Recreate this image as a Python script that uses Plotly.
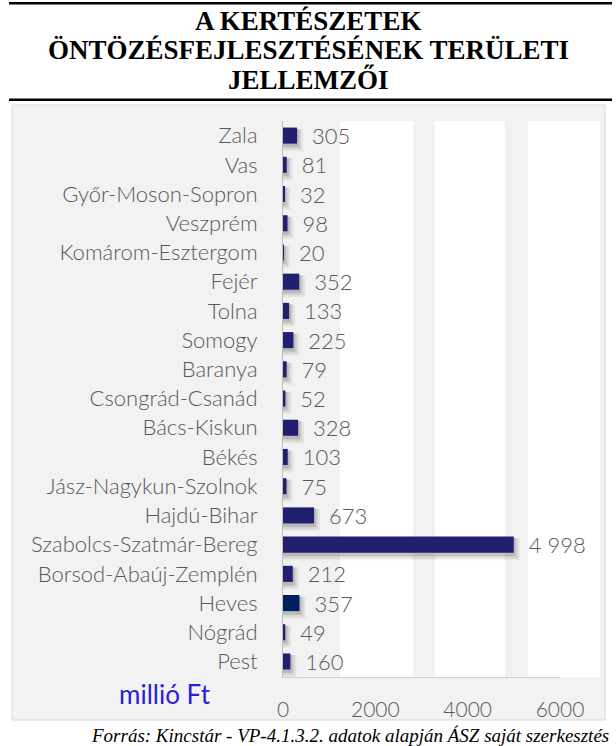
import plotly.graph_objects as go

W, H = 616, 746

counties = ["Zala", "Vas", "Győr-Moson-Sopron", "Veszprém", "Komárom-Esztergom",
            "Fejér", "Tolna", "Somogy", "Baranya", "Csongrád-Csanád", "Bács-Kiskun",
            "Békés", "Jász-Nagykun-Szolnok", "Hajdú-Bihar", "Szabolcs-Szatmár-Bereg",
            "Borsod-Abaúj-Zemplén", "Heves", "Nógrád", "Pest"]
values = [305, 81, 32, 98, 20, 352, 133, 225, 79, 52, 328, 103, 75, 673, 4998,
          212, 357, 49, 160]
x_ticks = [0, 2000, 4000, 6000]
x_tick_labels = ["0", "2000", "4000", "6000"]

title_lines = ["A KERTÉSZETEK", "ÖNTÖZÉSFEJLESZTÉSÉNEK TERÜLETI", "JELLEMZŐI"]
unit_label = "millió Ft"
source_text = "Forrás: Kincstár - VP-4.1.3.2. adatok alapján ÁSZ saját szerkesztés"

BAR = "#20206e"
BAR_HL = "#002060"
GRAY_TXT = "#595959"
XMAX = 6000

# plot area in page pixels
PL, PR, PT, PB = 283, 560, 121, 677


def px(x):
    return x / W


def py(y):
    return 1 - y / H


colors = [BAR_HL if c == "Heves" else BAR for c in counties]
labels = [f"{v:,}".replace(",", " ") for v in values]

data_per_px = XMAX / (PR - PL)
row_px = (PB - PT) / len(counties)
BW = 0.55

fig = go.Figure()
# soft shadows
for spread, alpha in [(6, 0.05), (4, 0.08), (2, 0.12)]:
    fig.add_trace(go.Bar(
        y=counties, x=[v + spread * data_per_px for v in values], orientation="h",
        width=BW + spread / row_px, offset=-BW / 2 + 1.5 / row_px,
        marker=dict(color=f"rgba(0,0,0,{alpha})", line=dict(width=0)),
        hoverinfo="skip", showlegend=False))

fig.add_trace(go.Bar(
    y=counties, x=values, orientation="h", width=BW,
    marker=dict(color=colors, line=dict(width=0)),
    text=["\u00a0\u00a0" + t for t in labels], textposition="outside",
    constraintext="none", cliponaxis=False,
    textfont=dict(family="Lato", size=22, color=GRAY_TXT, weight=300),
    showlegend=False))

shapes = [
    dict(type="rect", xref="paper", yref="paper", x0=px(9), x1=px(612), y0=py(4.5), y1=py(2),
         fillcolor="black", line=dict(width=0), layer="below"),
    dict(type="rect", xref="paper", yref="paper", x0=px(9), x1=px(612), y0=py(101), y1=py(98.5),
         fillcolor="black", line=dict(width=0), layer="below"),
    dict(type="rect", xref="paper", yref="paper", x0=px(12), x1=px(605), y0=py(720), y1=py(105),
         fillcolor="#f2f2f2", line=dict(color="#d9d9d9", width=1), layer="below"),
]
for a, b in [(340, 413), (435, 505), (528, 600)]:
    shapes.append(dict(type="rect", xref="paper", yref="paper", x0=px(a), x1=px(b),
                       y0=py(PB), y1=py(PT), fillcolor="white", line=dict(width=0),
                       layer="below"))

annotations = []
for line, yc in zip(title_lines, [21, 50, 80]):
    annotations.append(dict(
        text="<b>" + line + "</b>", xref="paper", yref="paper",
        x=px(308), y=py(yc), xanchor="center", yanchor="middle", showarrow=False,
        font=dict(family="Liberation Serif", size=27, color="black")))
annotations += [
    dict(text=unit_label, xref="paper", yref="paper", x=px(165), y=py(694),
         xanchor="center", yanchor="middle", showarrow=False,
         font=dict(family="Lato", size=26, color="#2a1ed6")),
    dict(text="<i>" + source_text + "</i>", xref="paper", yref="paper", x=px(611), y=py(735),
         xanchor="right", yanchor="middle", showarrow=False,
         font=dict(family="Liberation Serif", size=19, color="black")),
]

fig.update_layout(
    width=W, height=H, margin=dict(l=0, r=0, t=0, b=0, pad=0), autosize=False,
    paper_bgcolor="white", plot_bgcolor="rgba(0,0,0,0)",
    barmode="overlay", bargap=0.45,
    shapes=shapes, annotations=annotations,
    xaxis=dict(domain=[px(PL), px(PR)], range=[0, XMAX], tickvals=x_ticks,
               ticktext=x_tick_labels, showgrid=False, zeroline=False, automargin=False,
               showline=True, linecolor="#d0d0d0", linewidth=1, ticks="",
               ticklabelstandoff=14,
               tickfont=dict(family="Lato", size=21, color=GRAY_TXT, weight=300)),
    yaxis=dict(domain=[py(PB), py(PT)], autorange="reversed", showgrid=False,
               zeroline=False, showline=True, linecolor="#bfbfbf", linewidth=1,
               ticks="", ticklabelstandoff=20, automargin=False,
               tickfont=dict(family="Lato", size=22, color=GRAY_TXT, weight=300)),
    font=dict(family="Lato"),
)

fig.write_html("out.html", config={"displayModeBar": False},
               post_script="document.body.style.margin='0';document.body.style.overflow='hidden';")
